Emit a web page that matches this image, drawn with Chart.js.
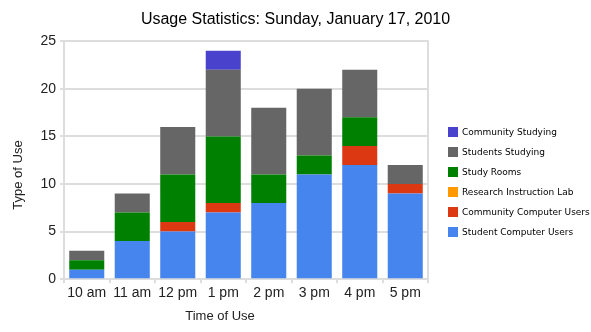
<!DOCTYPE html>
<html>
<head>
<meta charset="utf-8">
<script src="https://cdn.jsdelivr.net/npm/chart.js@4"></script>
<style>
  html, body { margin: 0; padding: 0; background: #fff; }
  #wrap { width: 591px; height: 332px; }
</style>
</head>
<body>
<div id="wrap"><canvas id="chart" width="591" height="332"></canvas></div>
<script>
// ---- data ----
const HOURS = ['10 am','11 am','12 pm','1 pm','2 pm','3 pm','4 pm','5 pm'];

const studentComputer   = [1, 4, 5, 7, 8, 11, 12, 9];
const communityComputer = [0, 0, 1, 1, 0, 0, 2, 1];
const researchLab       = [0, 0, 0, 0, 0, 0, 0, 0];
const studyRooms        = [1, 3, 5, 7, 3, 2, 3, 0];
const studentsStudying  = [1, 2, 5, 7, 7, 7, 5, 2];
const communityStudying = [0, 0, 0, 2, 0, 0, 0, 0];

const Y_TICKS = [0, 5, 10, 15, 20, 25];

const FONT = 'Liberation Sans';
const GRID = '#dddddd';

// right edge of the plot box
const plotBorder = {
  id: 'plotBorder',
  afterDraw(chart) {
    const { ctx, chartArea: a } = chart;
    ctx.save();
    ctx.strokeStyle = GRID;
    ctx.lineWidth = 2;
    ctx.beginPath();
    ctx.moveTo(a.right, a.top - 1);
    ctx.lineTo(a.right, a.bottom);
    ctx.stroke();
    ctx.restore();
  },
};

// axis titles sit off-centre in the original, so place them by hand
const axisTitles = {
  id: 'axisTitles',
  afterDraw(chart) {
    const { ctx } = chart;
    ctx.save();
    ctx.font = `13px "${FONT}"`;
    ctx.fillStyle = '#222';
    ctx.textAlign = 'center';
    ctx.textBaseline = 'middle';
    ctx.fillText('Time of Use', 220, 316);
    ctx.translate(18, 175);
    ctx.rotate(-Math.PI / 2);
    ctx.fillText('Type of Use', 0, 0);
    ctx.restore();
  },
};

// legend column on the right, top dataset first
const sideLegend = {
  id: 'sideLegend',
  afterDraw(chart) {
    const { ctx } = chart;
    const sets = chart.data.datasets.slice().reverse();
    ctx.save();
    ctx.font = '9px "DejaVu Sans"';
    ctx.textBaseline = 'middle';
    sets.forEach((d, i) => {
      const cy = 132 + i * 20;
      ctx.fillStyle = d.backgroundColor;
      ctx.fillRect(448, cy - 5, 10, 10);
      ctx.fillStyle = '#000';
      ctx.fillText(d.label, 462, cy + 0.5);
    });
    ctx.restore();
  },
};

function ds(label, data, color) {
  return { label, data, backgroundColor: color, borderWidth: 0,
           barPercentage: 0.77, categoryPercentage: 1.0 };
}

new Chart(document.getElementById('chart'), {
  type: 'bar',
  data: {
    labels: HOURS,
    datasets: [
      ds('Student Computer Users',   studentComputer,   '#4684ee'),
      ds('Community Computer Users', communityComputer, '#dc3912'),
      ds('Research Instruction Lab', researchLab,       '#ff9900'),
      ds('Study Rooms',              studyRooms,        '#008000'),
      ds('Students Studying',        studentsStudying,  '#666666'),
      ds('Community Studying',       communityStudying, '#4942cc'),
    ],
  },
  plugins: [plotBorder, axisTitles, sideLegend],
  options: {
    responsive: false,
    animation: false,
    layout: { padding: { left: 0, right: 0, top: 4, bottom: 28 } },
    plugins: {
      title: {
        display: true,
        text: 'Usage Statistics: Sunday, January 17, 2010',
        color: '#000',
        font: { family: FONT, size: 16, weight: 'normal' },
        padding: { top: 6, bottom: 12 },
      },
      legend: { display: false },
      tooltip: { enabled: false },
    },
    scales: {
      x: {
        stacked: true,
        grid: { offset: true, drawOnChartArea: false, color: GRID, lineWidth: 2, tickLength: 4 },
        border: { color: GRID, width: 2 },
        ticks: { color: '#222', font: { family: FONT, size: 14 }, padding: 2, maxRotation: 0 },
      },
      y: {
        stacked: true,
        min: 0,
        max: 25,
        afterBuildTicks: axis => { axis.ticks = Y_TICKS.map(v => ({ value: v })); },
        afterFit: axis => { axis.width = 64; },
        grid: { color: GRID, lineWidth: 2, tickLength: 4 },
        border: { color: GRID, width: 2 },
        ticks: { color: '#222', font: { family: FONT, size: 14 }, padding: 4 },
      },
      // empty strip that reserves room for the legend
      side: {
        position: 'right',
        grid: { display: false },
        border: { display: false },
        ticks: { display: false },
        afterFit: axis => { axis.width = 163; },
      },
    },
  },
});
</script>
</body>
</html>
